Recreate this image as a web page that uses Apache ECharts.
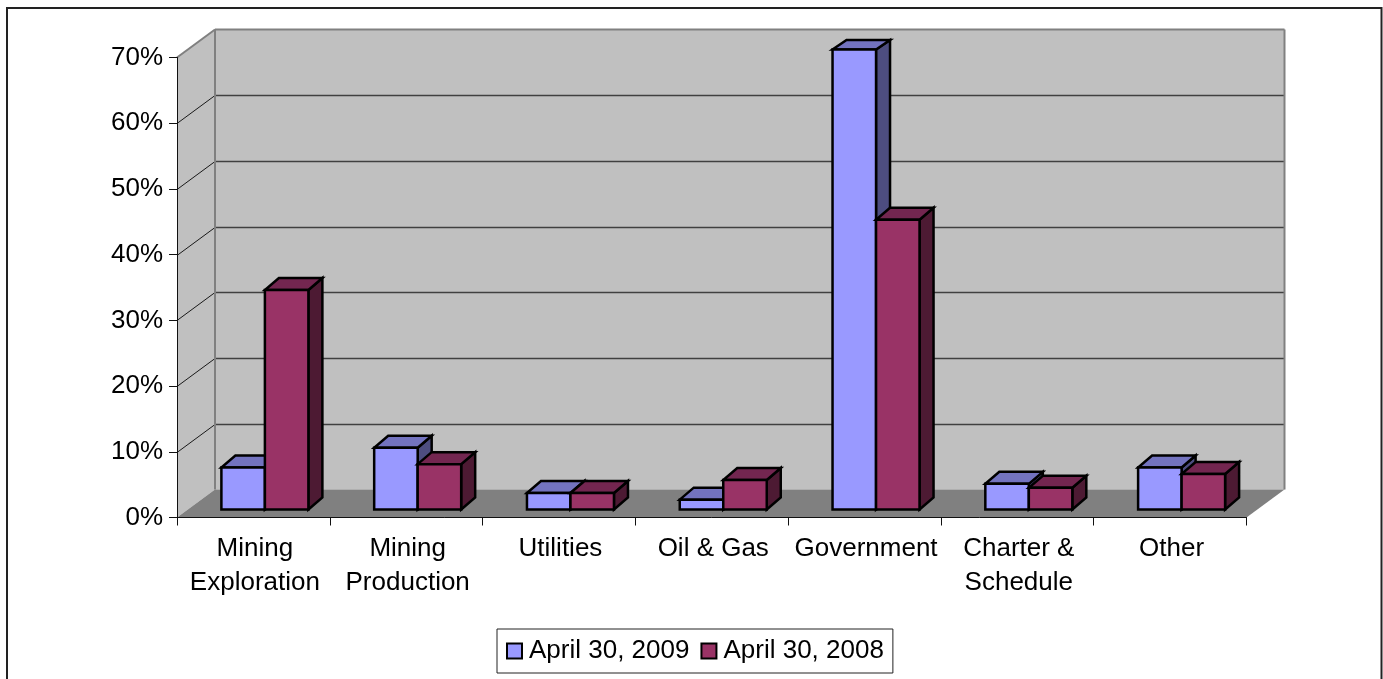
<!DOCTYPE html>
<html>
<head>
<meta charset="utf-8">
<style>
  html, body { margin: 0; padding: 0; background: #fff; }
  #main { width: 1383px; height: 679px; }
</style>
</head>
<body>
<div id="main"></div>
<script src="https://cdn.jsdelivr.net/npm/echarts@6/dist/echarts.min.js"></script>
<script>
const categories = [
  "Mining\nExploration",
  "Mining\nProduction",
  "Utilities",
  "Oil & Gas",
  "Government",
  "Charter &\nSchedule",
  "Other",
];
const april2009 = [6.4, 9.4, 2.5, 1.5, 70, 3.9, 6.4];
const april2008 = [33.4, 6.9, 2.5, 4.5, 44.1, 3.3, 5.4];
const yTicks = [0, 10, 20, 30, 40, 50, 60, 70];

const FONT = '"Liberation Sans", Arial, sans-serif';
const WALL_DX = 38;
const WALL_DY = -28;
const BAR_W = 43.5;
const BAR_DX = 14;
const BAR_DY = -12;
const BAR_SHIFT = 11.5;
const BAR_LIFT = 8;
const BAR_CEIL = 17.5; // depth of a bar stops this far above the top of the axis

function poly(points, fill, stroke, lineWidth) {
  return {
    type: "polygon",
    shape: { points: points },
    style: { fill: fill, stroke: stroke || null, lineWidth: lineWidth || 0, lineJoin: "miter" },
  };
}

function line(x1, y1, x2, y2, color, width) {
  return {
    type: "line",
    shape: { x1: x1, y1: y1, x2: x2, y2: y2 },
    style: { stroke: color, lineWidth: width },
  };
}

// side wall, back wall, floor and their gridlines
function renderWalls(params, api) {
  const band = api.size([1, 0])[0];
  const x0 = api.coord([0, 0])[0] - band / 2;
  const x1 = api.coord([categories.length - 1, 0])[0] + band / 2;
  const y0 = api.coord([0, 0])[1];
  const yTop = api.coord([0, yTicks[yTicks.length - 1]])[1];
  const bx0 = x0 + WALL_DX;
  const bx1 = x1 + WALL_DX;
  const children = [
    poly([[x0, y0], [bx0, y0 + WALL_DY], [bx0, yTop + WALL_DY], [x0, yTop]], "#c0c0c0"),
    poly([[bx0, y0 + WALL_DY], [bx1, y0 + WALL_DY], [bx1, yTop + WALL_DY], [bx0, yTop + WALL_DY]], "#c0c0c0"),
    poly([[x0, y0], [x1, y0], [bx1, y0 + WALL_DY], [bx0, y0 + WALL_DY]], "#808080"),
  ];
  yTicks.slice(1, -1).forEach(function (t) {
    const y = Math.round(api.coord([0, t])[1]) + 0.5;
    children.push(line(x0, y, bx0, y + WALL_DY, "#1a1a1a", 1));
    children.push(line(bx0, y + WALL_DY, bx1, y + WALL_DY, "#404040", 1.5));
  });
  children.push(line(x0, yTop, bx0, yTop + WALL_DY, "#808080", 2));
  children.push(line(bx0, yTop + WALL_DY, bx1, yTop + WALL_DY, "#808080", 2));
  children.push(line(bx0, yTop + WALL_DY, bx0, y0 + WALL_DY, "#808080", 2));
  children.push(line(bx1, yTop + WALL_DY, bx1, y0 + WALL_DY, "#808080", 2));
  return { type: "group", children: children };
}

function bar3d(colors, slot) {
  return function (params, api) {
    const cat = api.value(0);
    const val = api.value(1);
    const cx = api.coord([cat, 0])[0] + BAR_SHIFT;
    const left = cx + (slot - 1) * BAR_W;
    const right = left + BAR_W;
    const base = api.coord([cat, 0])[1] - BAR_LIFT;
    const top = base - api.size([0, val])[1];
    const ceil = api.coord([cat, yTicks[yTicks.length - 1]])[1] - BAR_CEIL;
    const back = Math.max(top + BAR_DY, ceil);
    const ink = "#000";
    return {
      type: "group",
      children: [
        poly([[right, base], [right + BAR_DX, base + BAR_DY], [right + BAR_DX, back], [right, top]], colors.side, ink, 2.5),
        poly([[left, top], [right, top], [right + BAR_DX, back], [left + BAR_DX, back]], colors.top, ink, 2.5),
        poly([[left, base], [right, base], [right, top], [left, top]], colors.front, ink, 2.5),
      ],
    };
  };
}

const blue = { front: "#9999ff", top: "#7373bf", side: "#4d4d80" };
const maroon = { front: "#993366", top: "#732650", side: "#4d1a33" };

const chart = echarts.init(document.getElementById("main"), null, { renderer: "canvas" });
chart.setOption({
  animation: false,
  backgroundColor: "#fff",
  textStyle: { fontFamily: FONT },
  grid: { left: 177, top: 57.5, width: 1069.5, height: 460, containLabel: false },
  xAxis: {
    type: "category",
    data: categories,
    z: 5,
    axisLine: { lineStyle: { color: "#111", width: 1 } },
    axisTick: { show: true, length: 8, alignWithLabel: false, lineStyle: { color: "#111" } },
    axisLabel: { color: "#000", fontSize: 26, fontFamily: FONT, margin: 14, lineHeight: 34, interval: 0, padding: [0, 0, 0, 3] },
  },
  yAxis: {
    type: "value",
    min: 0,
    max: 70,
    interval: 10,
    z: 5,
    splitLine: { show: false },
    axisLine: { show: true, lineStyle: { color: "#111", width: 1 } },
    axisTick: { show: true, length: 8, lineStyle: { color: "#111" } },
    axisLabel: { color: "#000", fontSize: 26, fontFamily: FONT, margin: 14, padding: [2, 0, 0, 0], formatter: "{value}%" },
  },
  legend: {
    left: 497,
    top: 629,
    orient: "horizontal",
    padding: [9, 9, 9, 9],
    borderWidth: 1,
    borderColor: "#222",
    itemWidth: 15,
    itemHeight: 15,
    itemGap: 11,
    textStyle: { color: "#000", fontSize: 26, fontFamily: FONT, padding: [0, 0, 0, 2] },
    data: [
      { name: "April 30, 2009", icon: "rect", itemStyle: { color: blue.front, borderColor: "#000", borderWidth: 2 } },
      { name: "April 30, 2008", icon: "rect", itemStyle: { color: maroon.front, borderColor: "#000", borderWidth: 2 } },
    ],
  },
  graphic: [
    {
      type: "polyline",
      silent: true,
      shape: { points: [[7, 679], [7, 8], [1381.5, 8], [1381.5, 679]] },
      style: { stroke: "#222", lineWidth: 2, fill: null },
    },
  ],
  series: [
    {
      type: "custom",
      name: "walls",
      z: 1,
      silent: true,
      renderItem: renderWalls,
      data: [[0, 0]],
      encode: { x: 0, y: 1 },
    },
    {
      type: "custom",
      name: "April 30, 2009",
      z: 6,
      itemStyle: { color: blue.front },
      renderItem: bar3d(blue, 0),
      data: april2009.map(function (v, i) { return [i, v]; }),
      encode: { x: 0, y: 1 },
    },
    {
      type: "custom",
      name: "April 30, 2008",
      z: 7,
      itemStyle: { color: maroon.front },
      renderItem: bar3d(maroon, 1),
      data: april2008.map(function (v, i) { return [i, v]; }),
      encode: { x: 0, y: 1 },
    },
  ],
});
</script>
</body>
</html>
